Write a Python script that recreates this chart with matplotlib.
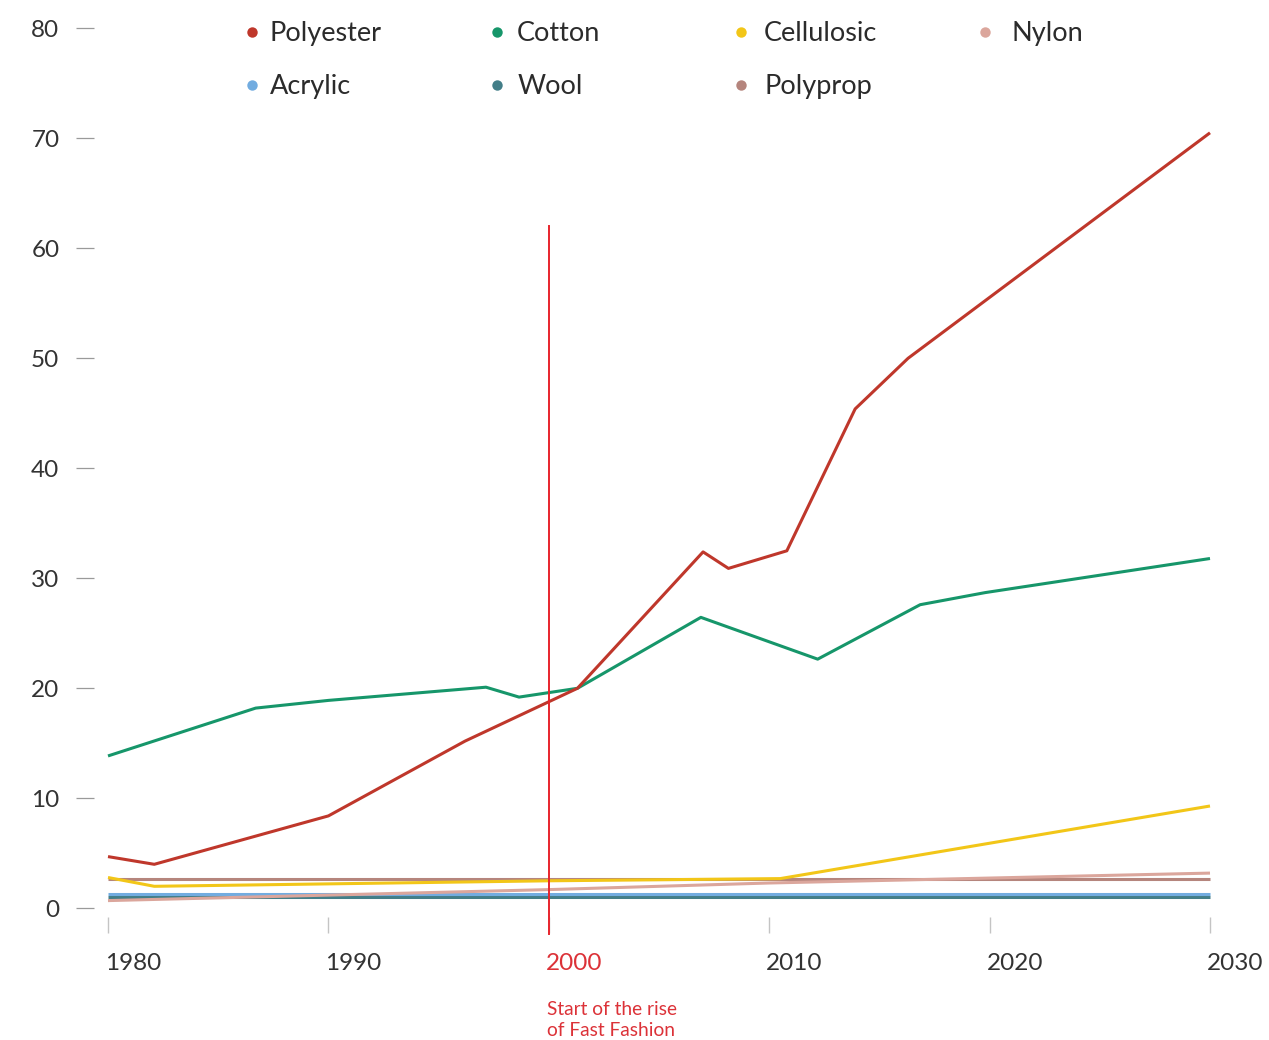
"""
Global fibre production by type, 1980-2030 (million tonnes).
Writes out.png
"""
import matplotlib
matplotlib.use("Agg")
import matplotlib.pyplot as plt
import matplotlib.transforms as mtransforms
from matplotlib.lines import Line2D

plt.rcParams["font.family"] = ["Lato", "DejaVu Sans"]

# ---- data ----
polyester_years = [1980, 1982.1, 1990, 1996.2, 2001.3, 2007.0, 2008.15, 2010.8, 2013.9, 2016.3, 2030]
polyester_vals = [4.7, 4.0, 8.4, 15.2, 20.0, 32.4, 30.9, 32.5, 45.4, 50.0, 70.5]

cotton_years = [1980, 1986.7, 1990, 1997.15, 1998.65, 2001.3, 2006.9, 2012.2, 2016.85, 2019.8, 2030]
cotton_vals = [13.85, 18.2, 18.9, 20.1, 19.2, 20.0, 26.45, 22.65, 27.6, 28.7, 31.8]

cellulosic_years = [1980, 1982.1, 2000, 2010.5, 2030]
cellulosic_vals = [2.8, 2.0, 2.5, 2.7, 9.3]

nylon_years = [1980, 1990, 2000, 2010, 2020, 2030]
nylon_vals = [0.7, 1.2, 1.7, 2.3, 2.75, 3.2]

polyprop_years = [1980, 2030]
polyprop_vals = [2.64, 2.64]

acrylic_years = [1980, 2030]
acrylic_vals = [1.32, 1.32]

wool_years = [1980, 2030]
wool_vals = [1.07, 1.07]

x_ticks = [1980, 1990, 2000, 2010, 2020, 2030]
y_ticks = [0, 10, 20, 30, 40, 50, 60, 70, 80]
fast_fashion_year = 2000
fast_fashion_top = 62.0
fast_fashion_bottom = -2.3

COLORS = {
    "Polyester": "#bf372b",
    "Cotton": "#16966a",
    "Cellulosic": "#f2c618",
    "Nylon": "#dba69c",
    "Acrylic": "#72ace0",
    "Wool": "#437e88",
    "Polyprop": "#b5857d",
}
RED = "#e8242c"

series = [
    ("Wool", wool_years, wool_vals),
    ("Acrylic", acrylic_years, acrylic_vals),
    ("Polyprop", polyprop_years, polyprop_vals),
    ("Nylon", nylon_years, nylon_vals),
    ("Cellulosic", cellulosic_years, cellulosic_vals),
    ("Cotton", cotton_years, cotton_vals),
    ("Polyester", polyester_years, polyester_vals),
]

W, H, DPI = 1269, 1040, 100
fig = plt.figure(figsize=(W / DPI, H / DPI), dpi=DPI)
ax = fig.add_axes([108 / W, (H - 908.3) / H, (1210 - 108) / W, 880 / H])

for name, xs, ys in series:
    ax.plot(xs, ys, color=COLORS[name], linewidth=2.2, solid_capstyle="butt",
            clip_on=False)

ax.plot([fast_fashion_year, fast_fashion_year], [fast_fashion_bottom, fast_fashion_top],
        color=RED, linewidth=1.4, clip_on=False, zorder=5)

ax.set_xlim(1980, 2030)
ax.set_ylim(0, 80)
ax.set_xticks(x_ticks)
ax.set_yticks(y_ticks)

for side in ["top", "right"]:
    ax.spines[side].set_visible(False)
ax.spines["left"].set_position(("outward", 10.1))
ax.spines["bottom"].set_position(("outward", 6.5))
ax.spines["left"].set_visible(False)
ax.spines["bottom"].set_visible(False)

ax.tick_params(axis="y", length=12.9, width=0.9, color="#9a9a9a", pad=12,
               labelsize=17.5, labelcolor="#333333")
ax.tick_params(axis="x", length=11.5, width=1.0, color="#c4c4c4", pad=14.5,
               labelsize=17.5, labelcolor="#333333")

# x labels start just left of their tick
x_shift = mtransforms.ScaledTranslation(-3 / DPI, 0, fig.dpi_scale_trans)
for lbl in ax.get_xticklabels():
    lbl.set_horizontalalignment("left")
    lbl.set_transform(lbl.get_transform() + x_shift)
    if lbl.get_text() == str(fast_fashion_year):
        lbl.set_color("#dc3238")

ax.annotate("Start of the rise\nof Fast Fashion", xy=(fast_fashion_year, 0),
            xycoords="data", xytext=(-1, -67), textcoords="offset points",
            ha="left", va="top", fontsize=13.8, color="#dc3238", linespacing=1.25)

# legend: one small legend per column so the columns are evenly spaced
legend_cols = [["Polyester", "Acrylic"], ["Cotton", "Wool"],
               ["Cellulosic", "Polyprop"], ["Nylon"]]
col_x = [241.5, 486.5, 730.5, 974.5]
col_gap = [7, 9.5, 12.5, 16]  # px between dot box and text
fs = 19.5
for names, x0, gap in zip(legend_cols, col_x, col_gap):
    handles = [Line2D([], [], marker="o", linestyle="", markersize=7.5,
                      markeredgewidth=0, color=COLORS[n]) for n in names]
    fig.legend(handles, names, loc="upper left",
               bbox_to_anchor=(x0 / W, 1 - 21 / H), frameon=False,
               borderpad=0, borderaxespad=0, handlelength=0.78,
               handletextpad=gap / (fs * DPI / 72), labelspacing=1.05,
               fontsize=fs, labelcolor="#2b2b2b")

fig.savefig("out.png", dpi=DPI)
